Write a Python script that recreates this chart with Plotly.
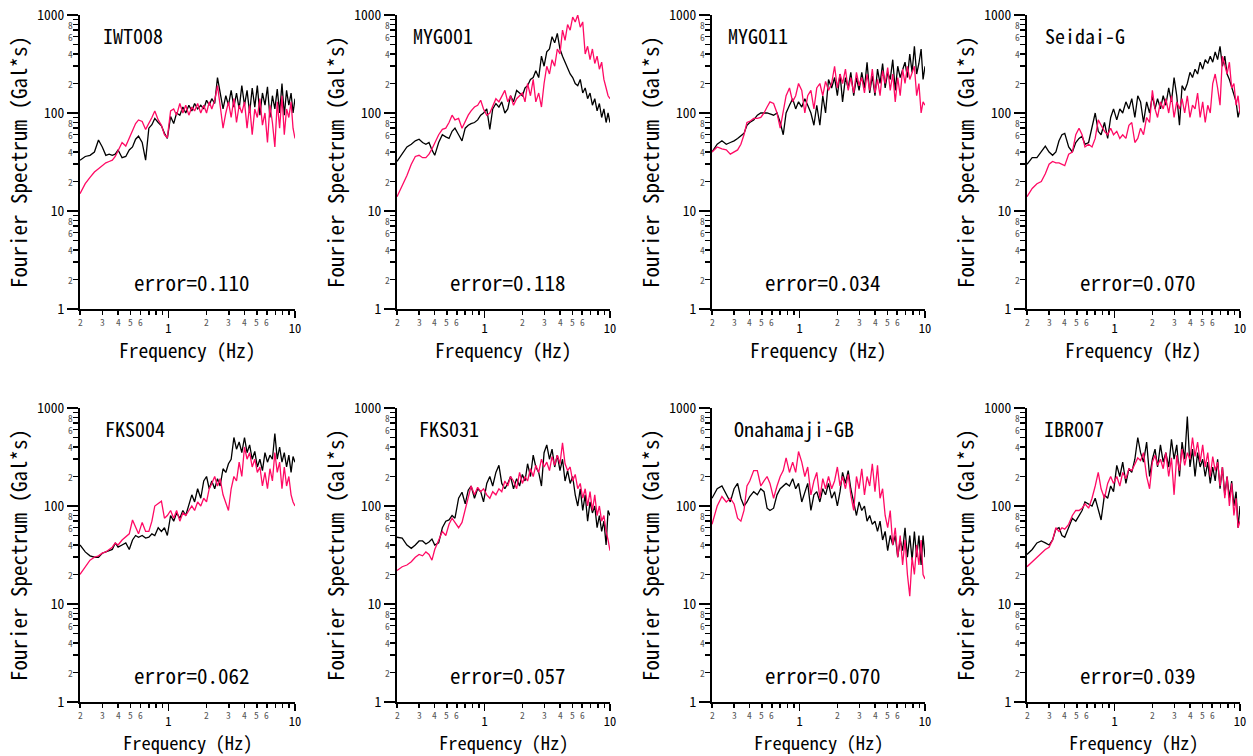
import numpy as np
import plotly.graph_objects as go

# ---------------- data ----------------
FREQ = [0.20, 0.22, 0.24, 0.26, 0.28, 0.30, 0.32, 0.34, 0.36, 0.38,
        0.40, 0.43, 0.46, 0.49, 0.52, 0.55, 0.58, 0.62, 0.66, 0.70,
        0.74, 0.78, 0.83, 0.88, 0.93, 0.98, 1.04, 1.10, 1.16, 1.23,
        1.30, 1.37, 1.45, 1.53, 1.61, 1.70, 1.80, 1.90, 2.00, 2.10,
        2.20, 2.32, 2.44, 2.56, 2.70, 2.84, 2.98, 3.13, 3.29, 3.45,
        3.62, 3.80, 3.99, 4.18, 4.38, 4.59, 4.81, 5.04, 5.28, 5.53,
        5.79, 6.06, 6.34, 6.63, 6.93, 7.24, 7.56, 7.89, 8.23, 8.58,
        8.94, 9.31, 9.65, 10.0]

STATIONS = ["IWT008", "MYG001", "MYG011", "Seidai-G",
            "FKS004", "FKS031", "Onahamaji-GB", "IBR007"]
ERRORS = ["0.110", "0.118", "0.034", "0.070", "0.062", "0.057", "0.070", "0.039"]

OBS_IWT008 = [33, 36, 37, 40, 53, 45, 37, 38, 37, 38,
              42, 35, 36, 42, 45, 54, 58, 50, 33, 70,
              76, 88, 80, 74, 62, 55, 92, 78, 100, 95,
              115, 100, 120, 105, 125, 110, 120, 110,
              135, 120, 140, 125, 230, 160, 110, 150, 120, 170, 115, 160,
              110, 190, 120, 170, 100, 180, 115, 190, 95, 160, 120, 185,
              90, 150, 110, 175, 100, 200, 95, 170, 120, 160, 100, 140]
SYN_IWT008 = [15, 19, 22, 25, 27, 29, 31, 32, 33, 36,
              41, 50, 46, 55, 66, 78, 85, 82, 68, 78,
              90, 105, 85, 75, 60, 56, 105, 110, 95, 125,
              100, 120, 95, 115, 105, 125, 100, 120,
              100, 130, 110, 135, 190, 120, 70, 100, 130, 90, 140, 80,
              120, 100, 130, 70, 120, 60, 110, 90, 140, 75, 100, 50,
              120, 80, 45, 130, 70, 150, 60, 110, 90, 130, 70, 55]

OBS_MYG001 = [32, 38, 45, 48, 52, 54, 50, 48, 50, 42,
              37, 50, 60, 57, 55, 65, 70, 60, 52, 70,
              75, 78, 80, 85, 95, 100, 110, 68, 110, 125,
              115, 130, 100, 110, 150, 130, 170, 160, 150, 180,
              190, 220, 230, 270, 230, 380, 300, 420, 450, 600,
              520, 650, 450, 380, 330, 280, 250, 230, 200, 190,
              220, 160, 180, 140, 160, 120, 140, 105, 125, 90,
              110, 80, 100, 80]
SYN_MYG001 = [14, 18, 23, 30, 36, 37, 35, 35, 38, 43,
              50, 60, 68, 70, 80, 95, 85, 88, 70, 82,
              95, 105, 115, 120, 135, 110, 95, 100, 120, 140,
              130, 150, 170, 130, 150, 120, 140, 150, 160, 130,
              200, 150, 220, 130, 160, 115, 200, 300, 250, 350,
              300, 450, 400, 700, 550, 800, 700, 950, 850, 1000,
              750, 850, 400, 480, 350, 450, 320, 380, 280, 330,
              220, 180, 150, 140]

OBS_MYG011 = [40, 48, 52, 48, 50, 52, 55, 58, 62, 75,
              80, 85, 95, 100, 100, 100, 98, 95, 100, 80,
              60, 100, 120, 140, 110, 130, 115, 140, 120, 100,
              75, 120, 75, 150, 100, 220, 180, 230, 150, 250,
              130, 230, 180, 260, 150, 230, 170, 260, 180, 330,
              160, 240, 150, 280, 200, 320, 180, 260, 220, 350,
              170, 300, 230, 280, 330, 230, 400, 260, 480, 250,
              320, 450, 220, 300]
SYN_MYG011 = [40, 45, 43, 42, 38, 40, 42, 48, 60, 80,
              82, 88, 88, 90, 100, 115, 130, 125, 100, 70,
              100, 150, 180, 130, 150, 200, 170, 100, 150, 170,
              110, 180, 200, 150, 210, 170, 200, 300, 180, 250,
              200, 280, 170, 230, 160, 260, 190, 230, 160, 250,
              170, 280, 160, 220, 150, 270, 200, 290, 170, 250,
              130, 230, 150, 280, 200, 300, 220, 260, 300, 150,
              200, 100, 130, 120]

OBS_SEIDAI = [30, 35, 35, 40, 46, 40, 37, 40, 52, 60,
              62, 45, 40, 50, 55, 58, 48, 50, 70, 100,
              65, 60, 80, 55, 90, 110, 85, 110, 100, 130,
              110, 140, 90, 150, 130, 80, 130, 100, 150, 110,
              140, 110, 150, 120, 180, 130, 230, 150, 75, 190,
              170, 200, 260, 230, 280, 250, 330, 280, 350, 320,
              380, 330, 420, 350, 480, 300, 380, 250, 220, 180,
              150, 130, 90, 110]
SYN_SEIDAI = [14, 17, 19, 20, 24, 30, 32, 31, 31, 30,
              29, 38, 40, 60, 70, 60, 45, 48, 45, 55,
              85, 75, 65, 60, 70, 60, 65, 55, 60, 55,
              75, 80, 50, 55, 70, 60, 90, 80, 170, 110,
              90, 130, 110, 140, 100, 150, 90, 130, 110, 140,
              100, 150, 90, 120, 110, 160, 90, 130, 80, 120,
              100, 200, 250, 180, 120, 380, 300, 250, 330, 180,
              200, 120, 150, 100]

OBS_FKS004 = [40, 34, 31, 30, 30, 33, 34, 35, 36, 42,
              38, 40, 42, 36, 45, 50, 48, 50, 47, 48,
              52, 50, 60, 55, 60, 50, 80, 70, 85, 75,
              90, 80, 100, 130, 110, 150, 120, 180, 200, 150,
              180, 150, 190, 160, 240, 220, 270, 300, 500, 380,
              450, 350, 500, 350, 420, 300, 360, 250, 300, 230,
              350, 280, 330, 300, 550, 300, 400, 280, 350, 250,
              330, 220, 320, 280]
SYN_FKS004 = [20, 24, 28, 30, 31, 33, 34, 36, 38, 42,
              40, 45, 48, 52, 72, 60, 52, 68, 55, 55,
              70, 100, 105, 112, 75, 80, 90, 75, 90, 70,
              85, 80, 90, 100, 90, 110, 100, 120, 110, 150,
              170, 200, 160, 190, 130, 110, 90, 150, 200, 180,
              280, 200, 400, 300, 350, 250, 300, 220, 250, 160,
              220, 150, 240, 180, 350, 220, 280, 150, 250, 160,
              200, 130, 110, 100]

OBS_FKS031 = [48, 47, 40, 37, 40, 44, 44, 41, 43, 46,
              40, 42, 60, 70, 72, 80, 75, 120, 138, 105,
              145, 160, 120, 150, 140, 110, 170, 200, 160, 220,
              260, 170, 150, 170, 200, 150, 190, 160, 210, 180,
              270, 200, 330, 250, 220, 160, 350, 420, 300, 380,
              250, 330, 230, 300, 180, 230, 170, 200, 130, 100,
              150, 90, 130, 70, 110, 85, 100, 60, 80, 55,
              70, 40, 90, 80]
SYN_FKS031 = [22, 24, 25, 27, 30, 32, 31, 34, 32, 28,
              36, 45, 55, 50, 65, 75, 68, 60, 68, 90,
              120, 160, 130, 155, 140, 150, 130, 120, 140, 130,
              150, 140, 180, 160, 200, 180, 150, 220, 170, 200,
              180, 240, 200, 260, 220, 300, 250, 280, 230, 320,
              260, 330, 270, 440, 270, 230, 250, 180, 210, 150,
              170, 120, 150, 100, 140, 90, 130, 80, 100, 70,
              80, 55, 45, 35]

OBS_ONAHAMA = [120, 150, 160, 130, 110, 150, 170, 120, 100, 110,
               125, 140, 130, 150, 140, 95, 90, 95, 130, 150,
               160, 170, 160, 190, 150, 170, 110, 140, 170, 90,
               130, 140, 110, 150, 130, 170, 120, 140, 100, 140,
               220, 170, 230, 150, 110, 80, 110, 90, 100, 70,
               80, 65, 70, 55, 70, 45, 55, 35, 50, 40,
               50, 30, 45, 35, 60, 30, 50, 28, 55, 30,
               50, 25, 50, 30]
SYN_ONAHAMA = [65, 100, 125, 110, 120, 105, 75, 70, 90, 160,
               180, 230, 230, 160, 180, 200, 170, 120, 160, 200,
               230, 310, 220, 280, 220, 360, 280, 200, 250, 130,
               180, 220, 120, 190, 150, 200, 150, 180, 250, 160,
               200, 150, 210, 130, 90, 200, 150, 240, 130, 200,
               160, 270, 140, 260, 120, 150, 80, 60, 90, 40,
               60, 30, 50, 25, 45, 20, 12, 30, 20, 40,
               25, 45, 20, 18]

OBS_IBR007 = [32, 36, 42, 44, 42, 40, 45, 58, 60, 50,
              48, 60, 75, 70, 80, 90, 110, 105, 100, 120,
              90, 72, 130, 120, 160, 140, 260, 200, 280, 170,
              240, 220, 300, 500, 350, 280, 450, 200, 300, 380,
              250, 420, 280, 350, 250, 480, 300, 420, 200, 450,
              300, 820, 250, 380, 200, 350, 250, 300, 200, 280,
              170, 250, 180, 300, 150, 250, 130, 200, 120, 180,
              100, 140, 60, 100]
SYN_IBR007 = [24, 27, 30, 33, 36, 38, 45, 60, 55, 60,
              58, 65, 80, 90, 90, 95, 105, 95, 120, 160,
              220, 150, 120, 170, 200, 170, 200, 160, 220, 190,
              240, 230, 270, 310, 290, 350, 200, 150, 280, 330,
              260, 300, 240, 350, 200, 310, 130, 330, 230, 380,
              260, 350, 300, 500, 320, 450, 280, 420, 250, 350,
              200, 320, 230, 280, 160, 250, 120, 200, 100, 170,
              80, 120, 60, 70]

OBSERVED = [OBS_IWT008, OBS_MYG001, OBS_MYG011, OBS_SEIDAI,
            OBS_FKS004, OBS_FKS031, OBS_ONAHAMA, OBS_IBR007]
SYNTHETIC = [SYN_IWT008, SYN_MYG001, SYN_MYG011, SYN_SEIDAI,
             SYN_FKS004, SYN_FKS031, SYN_ONAHAMA, SYN_IBR007]

X_MAJOR = [1, 10]
X_MINOR_LABELS = [0.2, 0.3, 0.4, 0.5, 0.6, 2, 3, 4, 5, 6]
Y_MAJOR = [1, 10, 100, 1000]
Y_MINOR_LABELS = [2, 4, 6, 8, 20, 40, 60, 80, 200, 400, 600, 800]

# ---------------- layout ----------------
W, H = 1253, 756
COL_PX = [(80, 295), (397, 610), (712, 925), (1027, 1240)]
ROW_PX = [(15, 309), (408, 702)]
TITLE_DY = [-40, -39.5]
TITLE_SIZE = [19.5, 18.5]
NAME_DX = [22, 15, 15, 17, 24, 21, 21, 16]

MONO = "Noto Sans Mono CJK JP, DejaVu Sans Mono, monospace"
BLACK = "#000000"
PINK = "#FF0A64"
GRAY = "#555555"

x_minor_ticks = [m * d for d in (0.1, 1) for m in range(2, 10)]
x_minor_ticks = [v for v in x_minor_ticks if v >= 0.2]
y_minor_ticks = [m * d for d in (1, 10, 100) for m in range(2, 10)]

fig = go.Figure()
annotations = []
layout_axes = {}

for i in range(8):
    r, c = divmod(i, 4)
    n = "" if i == 0 else str(i + 1)
    xref, yref = "x" + n, "y" + n
    x0, x1 = COL_PX[c]
    ytop, ybot = ROW_PX[r]

    fig.add_trace(go.Scatter(x=FREQ, y=OBSERVED[i], mode="lines",
                             line=dict(color=BLACK, width=1.3),
                             xaxis=xref, yaxis=yref, showlegend=False,
                             hoverinfo="skip"))
    fig.add_trace(go.Scatter(x=FREQ, y=SYNTHETIC[i], mode="lines",
                             line=dict(color=PINK, width=1.3),
                             xaxis=xref, yaxis=yref, showlegend=False,
                             hoverinfo="skip"))

    layout_axes["xaxis" + n] = dict(
        domain=[x0 / W, x1 / W], anchor=yref, type="log",
        range=[np.log10(0.2), 1.0], automargin=False,
        showline=True, linecolor=BLACK, linewidth=2,
        showgrid=False, zeroline=False,
        tickmode="array", tickvals=X_MAJOR, ticktext=[str(v) for v in X_MAJOR],
        ticks="outside", ticklen=7, tickwidth=1.5, tickcolor=BLACK,
        ticklabelstandoff=0,
        tickfont=dict(family=MONO, size=12.5, color=BLACK),
        minor=dict(tickvals=x_minor_ticks, ticks="outside", ticklen=4,
                   tickwidth=1.5, tickcolor=BLACK, showgrid=False),
    )
    layout_axes["yaxis" + n] = dict(
        domain=[1 - ybot / H, 1 - ytop / H], anchor=xref, type="log",
        range=[0, 3], automargin=False,
        showline=True, linecolor=BLACK, linewidth=2,
        showgrid=False, zeroline=False,
        tickmode="array", tickvals=Y_MAJOR, ticktext=[str(v) for v in Y_MAJOR],
        ticks="outside", ticklen=11, tickwidth=1.5, tickcolor=BLACK,
        tickfont=dict(family=MONO, size=13.5, color=BLACK),
        minor=dict(tickvals=y_minor_ticks, ticks="outside", ticklen=5,
                   tickwidth=1.5, tickcolor=BLACK, showgrid=False),
    )

    # minor tick labels
    for v in X_MINOR_LABELS:
        lab = str(v)[-1] if v < 1 else str(v)
        annotations.append(dict(
            text=lab, x=np.log10(v), xref=xref, y=0, yref=yref + " domain",
            xanchor="center", yanchor="top", yshift=-5, showarrow=False,
            borderpad=0, font=dict(family=MONO, size=9.5, color=GRAY)))
    for v in Y_MINOR_LABELS:
        lab = str(v)[0]
        annotations.append(dict(
            text=lab, x=0, xref=xref + " domain", y=np.log10(v), yref=yref,
            xanchor="right", yanchor="middle", xshift=-6, showarrow=False,
            borderpad=0, font=dict(family=MONO, size=9.5, color=GRAY)))

    # axis titles
    annotations.append(dict(
        text="Frequency (Hz)", x=0.5, xref=xref + " domain", y=0,
        yref=yref + " domain", xanchor="center", yanchor="middle",
        yshift=TITLE_DY[r], showarrow=False, borderpad=0,
        font=dict(family=MONO, size=TITLE_SIZE[r], color=BLACK)))
    annotations.append(dict(
        text="Fourier Spectrum (Gal*s)", x=0, xref=xref + " domain", y=0.5,
        yref=yref + " domain", xanchor="center", yanchor="middle",
        xshift=-62, textangle=-90, showarrow=False, borderpad=0,
        font=dict(family=MONO, size=21, color=BLACK)))
    # station name
    annotations.append(dict(
        text=STATIONS[i], x=0, xref=xref + " domain", y=1,
        yref=yref + " domain", xanchor="left", yanchor="middle",
        xshift=NAME_DX[i], yshift=-20, showarrow=False, borderpad=0,
        font=dict(family=MONO, size=20, color=BLACK)))
    # error
    annotations.append(dict(
        text="error=" + ERRORS[i], x=0.52, xref=xref + " domain", y=0,
        yref=yref + " domain", xanchor="center", yanchor="middle",
        yshift=27, showarrow=False, borderpad=0,
        font=dict(family=MONO, size=21, color=BLACK)))

fig.update_layout(
    template="none",
    width=W, height=H, autosize=False,
    margin=dict(l=0, r=0, t=0, b=0),
    paper_bgcolor="white", plot_bgcolor="white",
    showlegend=False,
    annotations=annotations,
    **layout_axes,
)

fig.write_html("out.html",
               config={"displayModeBar": False, "staticPlot": True},
               post_script="document.body.style.margin='0px';"
                           "document.body.style.padding='0px';")
